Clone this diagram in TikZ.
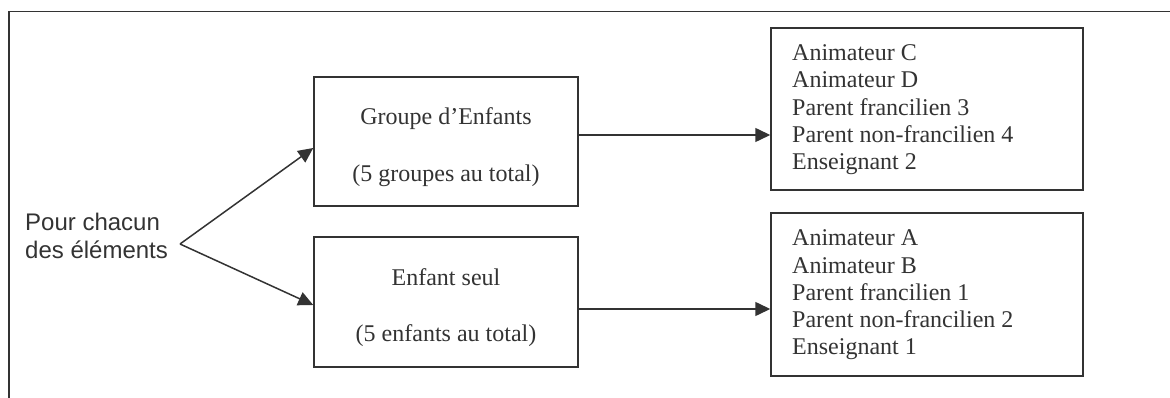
\documentclass[tikz,border=0pt]{standalone}
\usepackage{fontspec}
\setmainfont{Liberation Serif}
\setsansfont{Liberation Sans}
\usetikzlibrary{arrows.meta}
\definecolor{ink}{HTML}{333333}
\definecolor{txt}{HTML}{333333}
\tikzset{
  box/.style={draw=ink, line width=1.5pt, inner sep=0pt, fill=white},
  serif/.style={font=\fontsize{24}{27}\selectfont, text=txt, inner sep=0pt},
  sans/.style={font=\sffamily\fontsize{24}{27}\selectfont, text=txt, inner sep=0pt},
  arr/.style={draw=ink, line width=1.5pt, -{Triangle[length=15pt,width=14pt]}},
  frame/.style={draw=ink, line width=1.9pt}
}
\begin{document}
\begin{tikzpicture}[x=1pt,y=-1pt]
\useasboundingbox (0,0) rectangle (1170,398);
% outer frame
\coordinate (fr) at (1170,11.5);
\coordinate (fc) at (9,11.5);
\coordinate (fb) at (9,398);
\draw[frame] (fr) -- (fc) -- (fb);
% boxes
\node[box, minimum width=264pt, minimum height=129pt] (b1) at (446,141.5) {};
\node[box, minimum width=264pt, minimum height=130pt] (b2) at (446,302) {};
\node[box, minimum width=312pt, minimum height=162pt] (b3) at (927,109) {};
\node[box, minimum width=312pt, minimum height=163pt] (b4) at (927,294.5) {};
% box texts
\node[serif, anchor=base] (t1a) at (446,125) {Groupe d’Enfants};
\node[serif, anchor=base] (t1b) at (446,181.7) {(5 groupes au total)};
\node[serif, anchor=base] (t2a) at (446,285) {Enfant seul};
\node[serif, anchor=base] (t2b) at (446,341.7) {(5 enfants au total)};
\node[serif, anchor=base west] (t3a) at (792,60.7) {Animateur C};
\node[serif, anchor=base west] (t3b) at (792,88.0) {Animateur D};
\node[serif, anchor=base west] (t3c) at (792,115.2) {Parent francilien 3};
\node[serif, anchor=base west] (t3d) at (792,142.3) {Parent non-francilien 4};
\node[serif, anchor=base west] (t3e) at (792,169.4) {Enseignant 2};
\node[serif, anchor=base west] (t4a) at (792,245.7) {Animateur A};
\node[serif, anchor=base west] (t4b) at (792,273.0) {Animateur B};
\node[serif, anchor=base west] (t4c) at (792,300.2) {Parent francilien 1};
\node[serif, anchor=base west] (t4d) at (792,327.3) {Parent non-francilien 2};
\node[serif, anchor=base west] (t4e) at (792,354.4) {Enseignant 1};
% left label
\node[sans, anchor=base west] (p1) at (25,230.7) {Pour chacun};
\node[sans, anchor=base west] (p2) at (25,258.3) {des éléments};
% connectors
\coordinate (v) at (180,244);
\draw[arr] (v) -- ([yshift=-6.5pt]b1.west);
\draw[arr] (v) -- ([yshift=-3pt]b2.west);
\coordinate (s1) at ([yshift=6.5pt]b1.east);
\coordinate (s2) at ([yshift=-7pt]b2.east);
\draw[arr] (s1) -- (s1 -| b3.west);
\draw[arr] (s2) -- (s2 -| b4.west);
\end{tikzpicture}
\end{document}
